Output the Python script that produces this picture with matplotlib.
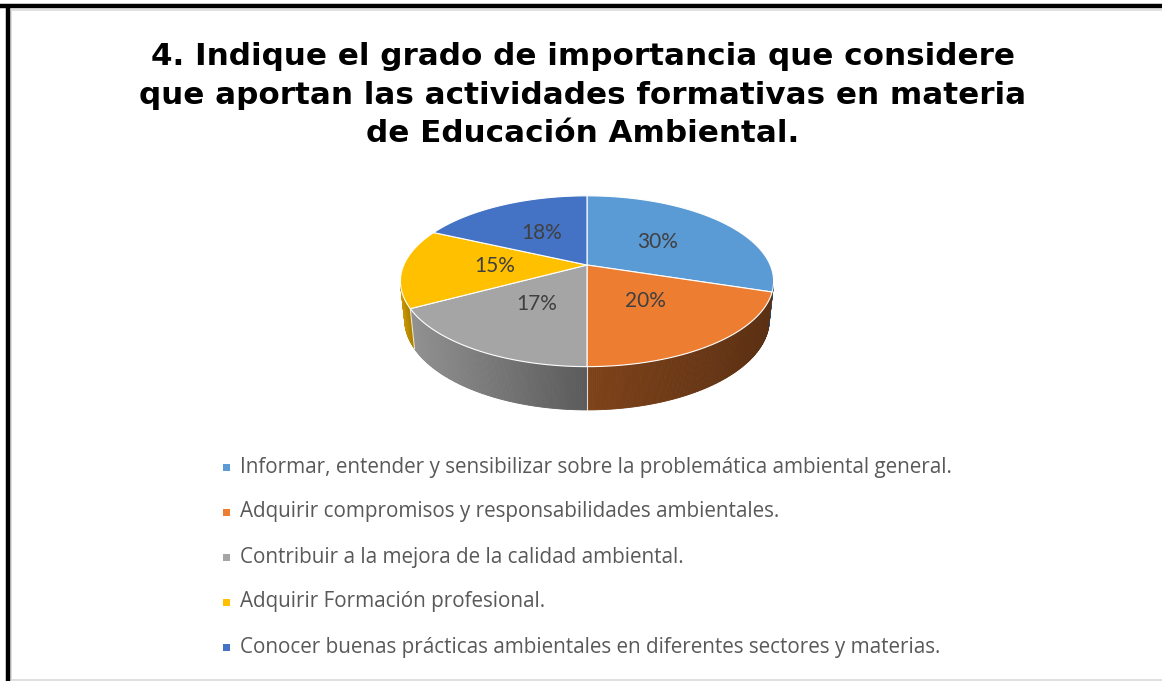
import numpy as np
import matplotlib
matplotlib.use("Agg")
import matplotlib.pyplot as plt
from matplotlib.patches import Polygon, Rectangle
from matplotlib.colors import to_rgb

# data
labels = [
    "Informar, entender y sensibilizar sobre la problemática ambiental general.",
    "Adquirir compromisos y responsabilidades ambientales.",
    "Contribuir a la mejora de la calidad ambiental.",
    "Adquirir Formación profesional.",
    "Conocer buenas prácticas ambientales en diferentes sectores y materias.",
]
values = [30, 20, 17, 15, 18]
title_lines = ["4. Indique el grado de importancia que considere",
               "que aportan las actividades formativas en materia",
               "de Educación Ambiental."]

# style
colors = ["#5B9BD5", "#ED7D31", "#A5A5A5", "#FFC000", "#4472C4"]
side_light = ["#2b4d6e", "#7e4219", "#919191", "#c89500", "#2f5190"]
side_dark = ["#2b4d6e", "#5b3013", "#5a5a5a", "#a87d00", "#213a68"]

W, H = 1162, 681
fig = plt.figure(figsize=(W / 100, H / 100), dpi=100)
ax = fig.add_axes([0, 0, 1, 1])
ax.set_xlim(0, W)
ax.set_ylim(H, 0)
ax.axis("off")

# frame
ax.add_patch(Rectangle((10.5, 9.5), W, 670, fill=False, ec="#d9d9d9", lw=1.2))
ax.plot([0, W], [5.5, 5.5], color="black", lw=3.2, solid_capstyle="butt")
ax.plot([8, 8], [4, H], color="black", lw=3.2, solid_capstyle="butt")

# 3d pie projection
elev = np.radians(26.7)
s, c = np.sin(elev), np.cos(elev)
D = 4.70
k = 861
cx, cy = 587, 265
h = 0.234


def proj(theta, r, z):
    t = np.radians(theta)
    X = r * np.sin(t)
    Y = r * np.cos(t)
    depth = D + Y * c - z * s
    u = X / depth
    v = (Y * s + z * c) / depth
    return cx + k * u, cy - k * v


fr = np.array(values) / sum(values)
starts = 360 * np.concatenate([[0], np.cumsum(fr)[:-1]])
ends = 360 * np.cumsum(fr)

# visible side range
lim = np.degrees(np.arccos(-1 / (D * c)))
vis_lo, vis_hi = lim, 360 - lim

for i in range(len(values)):
    a0 = max(starts[i], vis_lo)
    a1 = min(ends[i], vis_hi)
    if a1 <= a0:
        continue
    n = max(int((a1 - a0) * 2), 4)
    th = np.linspace(a0, a1, n + 1)
    xs_top = [proj(t, 1, 0) for t in th]
    xs_bot = [proj(t, 1, -h) for t in th]
    xleft = min(p[0] for p in xs_top)
    xright = max(p[0] for p in xs_top)
    cl = np.array(to_rgb(side_light[i]))
    cd = np.array(to_rgb(side_dark[i]))
    for j in range(n):
        xm = (xs_top[j][0] + xs_top[j + 1][0]) / 2
        f = (xm - xleft) / max(xright - xleft, 1)
        col = cl * (1 - f) + cd * f
        quad = [xs_top[j], xs_top[j + 1], xs_bot[j + 1], xs_bot[j]]
        ax.add_patch(Polygon(quad, closed=True, fc=col, ec=col, lw=0.6))

# white seams between slices on the side
for t in ends:
    if vis_lo + 10 < t < vis_hi - 10:
        p0, p1 = proj(t, 1, 0), proj(t, 1, -h)
        ax.plot([p0[0], p1[0]], [p0[1], p1[1]], color="white", lw=0.8, alpha=0.8)

# top faces
for i in range(len(values)):
    th = np.linspace(starts[i], ends[i], 200)
    pts = [proj(0, 0, 0)] + [proj(t, 1, 0) for t in th]
    ax.add_patch(Polygon(pts, closed=True, fc=colors[i], ec="white", lw=0.8))

# data labels
for i in range(len(values)):
    mid = (starts[i] + ends[i]) / 2
    x, y = proj(mid, 0.5, 0)
    ax.text(x, y, f"{values[i]}%", ha="center", va="center", fontsize=15,
            family="Lato", color="#404040")

# title
for i, line in enumerate(title_lines):
    ax.text(583, 65 + 38.5 * i, line, ha="center", va="baseline", fontsize=22.3,
            weight="bold", family="DejaVu Sans", color="black")

# legend
for i, lab in enumerate(labels):
    y = 467 + 45 * i
    ax.add_patch(Rectangle((223, y - 3.5), 7, 7, fc=colors[i], ec="none"))
    ax.text(240, y, lab, ha="left", va="center", fontsize=14.9, family="Open Sans",
            color="#595959")

fig.savefig("out.png", dpi=100)
